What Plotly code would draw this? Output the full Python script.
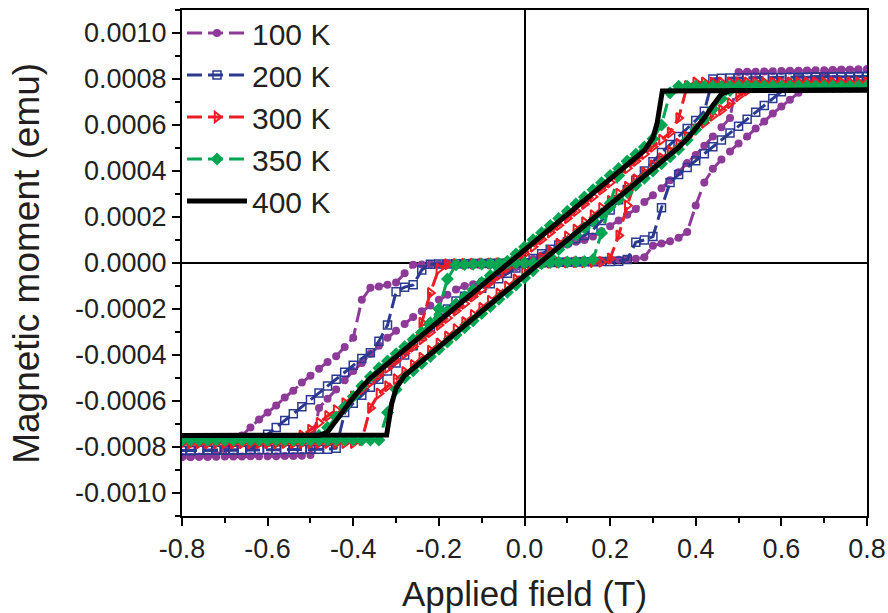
import plotly.graph_objects as go

# Applied field grid (T)
FIELD = [-0.80, -0.78, -0.76, -0.74, -0.72, -0.70, -0.68, -0.66, -0.64, -0.62,
         -0.60, -0.58, -0.56, -0.54, -0.52, -0.50, -0.48, -0.46, -0.44, -0.42,
         -0.40, -0.38, -0.36, -0.34, -0.32, -0.30, -0.28, -0.26, -0.24, -0.22,
         -0.20, -0.18, -0.16, -0.14, -0.12, -0.10, -0.08, -0.06, -0.04, -0.02,
         0.00,
         0.02, 0.04, 0.06, 0.08, 0.10, 0.12, 0.14, 0.16, 0.18, 0.20,
         0.22, 0.24, 0.26, 0.28, 0.30, 0.32, 0.34, 0.36, 0.38, 0.40,
         0.42, 0.44, 0.46, 0.48, 0.50, 0.52, 0.54, 0.56, 0.58, 0.60,
         0.62, 0.64, 0.66, 0.68, 0.70, 0.72, 0.74, 0.76, 0.78, 0.80]

# Magnetic moment, in units of 1e-4 emu
M100_S = [-8.43, -8.43, -8.42, -8.42, -8.42, -8.41, -8.41, -8.41, -8.40, -8.40,
          -8.40, -8.40, -8.39, -8.39, -8.38, -8.35, -6.30, -5.90, -5.50, -5.10,
          -4.70, -4.35, -3.95, -3.60, -3.25, -2.95, -2.65, -2.35, -2.10, -1.85,
          -1.60, -1.38, -1.15, -1.00, -0.92, -0.80, -0.65, -0.50, -0.33, -0.17,
          0.00,
          0.17, 0.33, 0.50, 0.65, 0.80, 0.92, 1.00, 1.15, 1.38, 1.60,
          1.85, 2.10, 2.35, 2.65, 2.95, 3.25, 3.60, 3.95, 4.35, 4.70,
          5.10, 5.50, 5.90, 6.30, 8.30, 8.31, 8.32, 8.33, 8.34, 8.35,
          8.36, 8.36, 8.37, 8.38, 8.38, 8.39, 8.40, 8.40, 8.41, 8.42]
M100_F = [-8.43, -8.43, -8.42, -8.42, -8.35, -8.10, -7.80, -7.50, -7.15, -6.80,
          -6.50, -6.20, -5.85, -5.55, -5.20, -4.90, -4.60, -4.30, -4.05, -3.65,
          -3.25, -1.60, -1.08, -1.02, -0.95, -0.85, -0.45, -0.08, -0.06, -0.05,
          -0.05, -0.04, -0.04, -0.03, -0.03, -0.02, -0.02, -0.01, -0.01, 0.00,
          0.00,
          0.01, 0.02, 0.03, 0.04, 0.05, 0.06, 0.07, 0.08, 0.10, 0.12,
          0.14, 0.16, 0.18, 0.25, 0.75, 0.85, 0.95, 1.10, 1.35, 2.50,
          3.50, 4.10, 4.50, 4.85, 5.20, 5.50, 5.85, 6.15, 6.50, 6.80,
          7.10, 7.40, 7.70, 8.00, 8.25, 8.38, 8.40, 8.40, 8.41, 8.42]

M200_S = [-8.15, -8.15, -8.14, -8.14, -8.14, -8.13, -8.13, -8.13, -8.12, -8.12,
          -8.12, -8.12, -8.11, -8.11, -8.11, -8.10, -8.10, -8.10, -8.05, -6.50,
          -6.10, -5.75, -5.40, -5.05, -4.70, -4.35, -4.00, -3.60, -3.20, -2.80,
          -2.40, -2.00, -1.65, -1.45, -1.30, -1.10, -0.90, -0.68, -0.45, -0.22,
          0.00,
          0.20, 0.40, 0.60, 0.78, 0.92, 1.05, 1.20, 1.45, 1.85, 2.30,
          2.75, 3.20, 3.60, 4.00, 4.40, 4.80, 5.15, 5.50, 5.85, 6.20,
          6.60, 8.00, 8.03, 8.04, 8.05, 8.05, 8.06, 8.06, 8.07, 8.07,
          8.08, 8.08, 8.08, 8.09, 8.09, 8.10, 8.10, 8.10, 8.11, 8.11]
M200_F = [-8.15, -8.15, -8.14, -8.14, -8.14, -8.13, -8.13, -8.13, -8.12, -7.75,
          -7.45, -7.15, -6.85, -6.55, -6.25, -5.95, -5.65, -5.35, -5.05, -4.75,
          -4.45, -4.15, -3.90, -3.40, -2.70, -1.25, -1.05, -0.95, -0.30, -0.05,
          -0.04, -0.04, -0.03, -0.03, -0.02, -0.02, -0.01, -0.01, 0.00, 0.00,
          0.00,
          0.01, 0.01, 0.02, 0.03, 0.03, 0.04, 0.05, 0.05, 0.06, 0.07,
          0.08, 0.15, 0.90, 1.00, 1.15, 2.40, 3.50, 3.85, 4.15, 4.45,
          4.75, 5.05, 5.35, 5.65, 5.95, 6.25, 6.55, 6.85, 7.15, 7.45,
          7.75, 8.00, 8.08, 8.09, 8.09, 8.10, 8.10, 8.10, 8.11, 8.11]

M300_U = [-7.83, -7.83, -7.83, -7.83, -7.83, -7.83, -7.83, -7.83, -7.83, -7.83,
          -7.83, -7.83, -7.80, -7.70, -7.50, -7.25, -6.95, -6.65, -6.40, -6.10,
          -5.80, -5.49, -5.18, -4.87, -4.56, -4.25, -3.94, -3.63, -3.32, -3.01,
          -2.70, -2.39, -2.08, -1.77, -1.46, -1.15, -0.84, -0.53, -0.22, 0.09,
          0.40,
          0.71, 1.02, 1.33, 1.64, 1.95, 2.26, 2.57, 2.88, 3.19, 3.50,
          3.81, 4.12, 4.43, 4.74, 5.05, 5.36, 5.67, 6.30, 7.70, 7.85,
          7.85, 7.85, 7.85, 7.85, 7.85, 7.85, 7.85, 7.85, 7.85, 7.85,
          7.85, 7.85, 7.85, 7.85, 7.85, 7.85, 7.85, 7.85, 7.85, 7.85]
M300_L = [-7.83, -7.83, -7.83, -7.83, -7.83, -7.83, -7.83, -7.83, -7.83, -7.83,
          -7.83, -7.83, -7.83, -7.83, -7.83, -7.83, -7.83, -7.83, -7.83, -7.83,
          -7.83, -7.70, -6.30, -5.67, -5.36, -5.05, -4.74, -4.43, -4.12, -3.81,
          -3.50, -3.19, -2.88, -2.57, -2.26, -1.95, -1.64, -1.33, -1.02, -0.71,
          -0.40,
          -0.09, 0.22, 0.53, 0.84, 1.15, 1.46, 1.77, 2.08, 2.39, 2.70,
          3.01, 3.32, 3.63, 3.94, 4.25, 4.56, 4.87, 5.18, 5.49, 5.80,
          6.10, 6.40, 6.65, 6.95, 7.25, 7.50, 7.70, 7.80, 7.85, 7.85,
          7.85, 7.85, 7.85, 7.85, 7.85, 7.85, 7.85, 7.85, 7.85, 7.85]
# central branch, fields -0.26 ... 0.26
M300_F = [-3.63, -2.60, -1.30, -0.25, -0.05, -0.04, -0.03, -0.03, -0.02, -0.02,
          -0.01, -0.01, 0.00, 0.00, 0.00, 0.01, 0.01, 0.02, 0.02, 0.03,
          0.03, 0.04, 0.05, 0.20, 1.20, 2.50, 3.63]

M350_U = [-7.70, -7.70, -7.70, -7.70, -7.70, -7.70, -7.70, -7.70, -7.70, -7.70,
          -7.70, -7.70, -7.70, -7.70, -7.70, -7.70, -7.50, -7.15, -6.70, -6.25,
          -5.80, -5.35, -4.95, -4.57, -4.26, -3.95, -3.64, -3.33, -3.02, -2.71,
          -2.40, -2.09, -1.78, -1.47, -1.16, -0.85, -0.54, -0.23, 0.08, 0.39,
          0.70,
          1.01, 1.32, 1.63, 1.94, 2.25, 2.56, 2.87, 3.18, 3.49, 3.80,
          4.11, 4.42, 4.73, 5.04, 5.40, 6.00, 7.40, 7.68, 7.68, 7.68,
          7.68, 7.68, 7.68, 7.68, 7.68, 7.68, 7.68, 7.68, 7.68, 7.68,
          7.68, 7.68, 7.68, 7.68, 7.68, 7.68, 7.68, 7.68, 7.68, 7.68]
M350_L = [-7.70, -7.70, -7.70, -7.70, -7.70, -7.70, -7.70, -7.70, -7.70, -7.70,
          -7.70, -7.70, -7.70, -7.70, -7.70, -7.70, -7.70, -7.70, -7.70, -7.70,
          -7.70, -7.70, -7.70, -7.70, -6.50, -5.50, -4.99, -4.68, -4.37, -4.06,
          -3.75, -3.44, -3.13, -2.82, -2.51, -2.20, -1.89, -1.58, -1.27, -0.96,
          -0.65,
          -0.34, -0.03, 0.28, 0.59, 0.90, 1.21, 1.52, 1.83, 2.14, 2.45,
          2.76, 3.07, 3.38, 3.69, 4.00, 4.31, 4.62, 4.95, 5.35, 5.80,
          6.25, 6.70, 7.15, 7.50, 7.68, 7.68, 7.68, 7.68, 7.68, 7.68,
          7.68, 7.68, 7.68, 7.68, 7.68, 7.68, 7.68, 7.68, 7.68, 7.68]
# central branch, fields -0.24 ... 0.24
M350_F = [-3.02, -2.60, -2.00, -0.70, -0.08, -0.06, -0.05, -0.04, -0.03, -0.02,
          -0.01, 0.00, 0.00, 0.00, 0.01, 0.02, 0.03, 0.04, 0.05, 0.06,
          0.15, 1.30, 2.60, 3.80, 4.42]

# 400 K curve (line only): vertices of the two branches
H400_U = [-0.80, -0.48, -0.46, -0.44, -0.42, -0.40, -0.38, -0.36, 0.28, 0.30, 0.31, 0.318, 0.322, 0.80]
M400_U = [-7.50, -7.50, -7.35, -6.85, -6.30, -5.85, -5.40, -5.00, 4.89, 5.45, 6.10, 7.00, 7.48, 7.52]
H400_L = [-0.80, -0.322, -0.318, -0.31, -0.30, -0.28, 0.36, 0.38, 0.40, 0.42, 0.44, 0.46, 0.48, 0.80]
M400_L = [-7.50, -7.48, -7.00, -6.10, -5.45, -4.89, 5.03, 5.40, 5.85, 6.30, 6.85, 7.35, 7.50, 7.52]

UNIT = 1e-4  # emu per listed unit

LABELS = ["100 K", "200 K", "300 K", "350 K", "400 K"]
X_TITLE = "Applied field (T)"
Y_TITLE = "Magnetic moment (emu)"
X_TICKVALS = [-0.8, -0.6, -0.4, -0.2, 0.0, 0.2, 0.4, 0.6, 0.8]
X_TICKTEXT = ["-0.8", "-0.6", "-0.4", "-0.2", "0.0", "0.2", "0.4", "0.6", "0.8"]
Y_TICKVALS = [-0.0010, -0.0008, -0.0006, -0.0004, -0.0002, 0.0, 0.0002, 0.0004, 0.0006, 0.0008, 0.0010]
Y_TICKTEXT = ["-0.0010", "-0.0008", "-0.0006", "-0.0004", "-0.0002", "0.0000",
              "0.0002", "0.0004", "0.0006", "0.0008", "0.0010"]

for arr in (M100_S, M100_F, M200_S, M200_F, M300_U, M300_L, M350_U, M350_L):
    assert len(arr) == len(FIELD), len(arr)
assert len(M300_F) == len(FIELD[27:54])
assert len(M350_F) == len(FIELD[28:53])


def emu(vals):
    return [v * UNIT for v in vals]


PURPLE = "#8E3A98"
BLUE = "#2B3990"
RED = "#ED1C24"
GREEN = "#00A651"
DASH = "15px,6px"

fig = go.Figure()


def add(x, y, name, color, symbol, size, show, mline=0):
    fig.add_trace(go.Scatter(
        x=x, y=emu(y), name=name, mode="lines+markers", showlegend=show,
        line=dict(color=color, width=3, dash=DASH),
        marker=dict(symbol=symbol, size=size, color=color,
                    line=dict(color=color, width=mline)),
    ))


add(FIELD, M100_S, LABELS[0], PURPLE, "circle", 8, True)
add(FIELD, M100_F, LABELS[0], PURPLE, "circle", 8, False)
add(FIELD, M200_S, LABELS[1], BLUE, "square-open", 8, True, 1.5)
add(FIELD, M200_F, LABELS[1], BLUE, "square-open", 8, False, 1.5)
add(FIELD, M300_U, LABELS[2], RED, "triangle-right-open", 9, True, 2)
add(FIELD, M300_L, LABELS[2], RED, "triangle-right-open", 9, False, 2)
add(FIELD[27:54], M300_F, LABELS[2], RED, "triangle-right-open", 9, False, 2)
add(FIELD, M350_U, LABELS[3], GREEN, "diamond", 10, True)
add(FIELD, M350_L, LABELS[3], GREEN, "diamond", 10, False)
add(FIELD[28:53], M350_F, LABELS[3], GREEN, "diamond", 10, False)

fig.add_trace(go.Scatter(x=H400_U, y=emu(M400_U), name=LABELS[4], mode="lines",
                         line=dict(color="black", width=5), showlegend=True))
fig.add_trace(go.Scatter(x=H400_L, y=emu(M400_L), name=LABELS[4], mode="lines",
                         line=dict(color="black", width=5), showlegend=False))

FONT = "Liberation Sans, Arial, sans-serif"
axis_common = dict(
    showline=True, linecolor="black", linewidth=2, mirror=True,
    ticks="outside", ticklen=8, tickwidth=2, tickcolor="black",
    showgrid=False, zeroline=True, zerolinecolor="black", zerolinewidth=2,
    tickfont=dict(family=FONT, size=27, color="#231F20"),
    tickmode="array", automargin=False,
)

fig.update_layout(
    width=888, height=613,
    margin=dict(l=182, r=21, t=10, b=97, autoexpand=False),
    paper_bgcolor="white", plot_bgcolor="white",
    font=dict(family=FONT, color="#231F20"),
    xaxis=dict(axis_common, range=[-0.8, 0.8], tickvals=X_TICKVALS, ticktext=X_TICKTEXT,
               minor=dict(tickmode="linear", tick0=0, dtick=0.1, ticks="outside",
                          ticklen=5, tickwidth=1.5, tickcolor="black"),
               title=dict(text=X_TITLE, font=dict(family=FONT, size=35), standoff=22)),
    yaxis=dict(axis_common, range=[-0.0011, 0.0011], tickvals=Y_TICKVALS, ticktext=Y_TICKTEXT,
               minor=dict(tickmode="linear", tick0=0, dtick=0.0001, ticks="outside",
                          ticklen=5, tickwidth=1.5, tickcolor="black")),
    legend=dict(x=0.0, y=1.006, xanchor="left", yanchor="top", bgcolor="rgba(0,0,0,0)",
                font=dict(family=FONT, size=30, color="#231F20"), itemwidth=60,
                tracegroupgap=0),
    annotations=[dict(text=Y_TITLE, xref="paper", yref="paper", x=-0.228, y=0.5,
                      xanchor="center", yanchor="middle", textangle=-90, showarrow=False,
                      font=dict(family=FONT, size=37, color="#231F20"))],
)

fig.write_html("out.html")
